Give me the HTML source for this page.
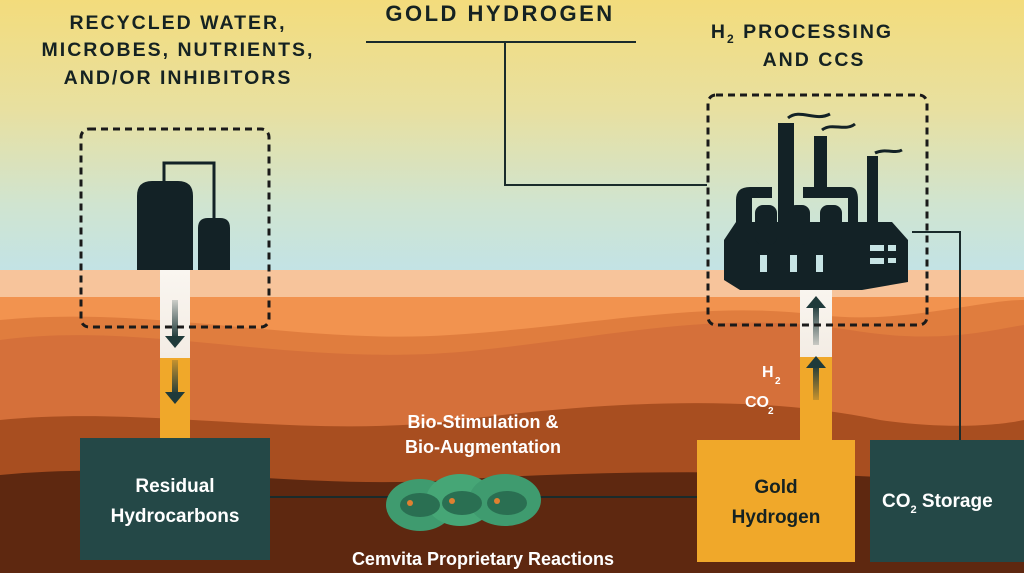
<!DOCTYPE html>
<html><head><meta charset="utf-8"><style>
html,body{margin:0;padding:0;width:1024px;height:573px;overflow:hidden}
svg text{font-family:"Liberation Sans","DejaVu Sans",sans-serif;font-weight:bold}
</style></head><body>
<svg width="1024" height="573" viewBox="0 0 1024 573" xmlns="http://www.w3.org/2000/svg">
<defs>
<linearGradient id="sky" x1="0" y1="0" x2="0" y2="1">
<stop offset="0" stop-color="#f3dc7c"/><stop offset="0.4" stop-color="#e8e0a0"/><stop offset="0.75" stop-color="#d0e4d0"/><stop offset="1" stop-color="#c2e3e6"/>
</linearGradient>
<linearGradient id="wp" x1="0" y1="0" x2="0" y2="1">
<stop offset="0" stop-color="#faf6f0"/><stop offset="1" stop-color="#f3ece4"/>
</linearGradient>
<linearGradient id="ar" x1="0" y1="0" x2="0" y2="1">
<stop offset="0" stop-color="#1f3a3a" stop-opacity="0.2"/><stop offset="1" stop-color="#1f3a3a"/>
</linearGradient>
<linearGradient id="ar2" x1="0" y1="1" x2="0" y2="0">
<stop offset="0" stop-color="#1f3a3a" stop-opacity="0.2"/><stop offset="1" stop-color="#1f3a3a"/>
</linearGradient>
</defs>
<rect width="1024" height="273" fill="url(#sky)"/>
<rect y="270" width="1024" height="303" fill="#f7c49b"/>
<path d="M0 297 L1024 297 L1024 573 L0 573Z" fill="#f2934f"/>
<path d="M0 320 C150 305 300 345 450 335 C600 325 700 300 820 315 C900 325 980 300 1024 300 L1024 573 L0 573Z" fill="#e07d3e"/>
<path d="M0 340 C150 320 300 370 480 350 C620 335 720 310 850 330 C940 345 990 330 1024 325 L1024 573 L0 573Z" fill="#d5703a"/>
<path d="M0 420 C150 405 300 440 460 420 C620 400 760 395 880 420 C950 430 1000 425 1024 420 L1024 573 L0 573Z" fill="#a84e20"/>
<path d="M0 475 C150 460 300 490 450 480 C600 470 750 470 900 478 C960 482 1000 480 1024 478 L1024 573 L0 573Z" fill="#5e2810"/>
<text x="500" y="21" font-size="22" text-anchor="middle" fill="#152222" letter-spacing="2.5">GOLD HYDROGEN</text>
<path d="M366 42 H636 M505 42 V185 H707" stroke="#1a2b2b" stroke-width="2" fill="none"/>
<text font-size="19.5" fill="#152222" text-anchor="middle" letter-spacing="2">
<tspan x="178" y="29">RECYCLED WATER,</tspan><tspan x="178" y="56">MICROBES, NUTRIENTS,</tspan><tspan x="178" y="84">AND/OR INHIBITORS</tspan></text>
<text font-size="19.5" fill="#152222" text-anchor="middle" letter-spacing="2"><tspan x="802" y="38">H<tspan font-size="12" dy="5">2</tspan><tspan dy="-5"> PROCESSING</tspan></tspan><tspan x="814" y="66">AND CCS</tspan></text>
<path d="M912 232 H960 V440" stroke="#1a2b2b" stroke-width="2" fill="none"/>
<path d="M270 497 H697" stroke="#1a2b2b" stroke-width="2"/>
<rect x="160" y="270" width="30" height="88" fill="url(#wp)"/>
<rect x="160" y="358" width="30" height="82" fill="#f0a82a"/>
<rect x="172" y="300" width="6" height="38" fill="url(#ar)"/><path d="M165 336 H185 L175 348Z" fill="#1f3a3a"/>
<rect x="172" y="360" width="6" height="35" fill="url(#ar)"/><path d="M165 392 H185 L175 404Z" fill="#1f3a3a"/>
<path d="M164 181 V163 H214 V218" stroke="#132226" stroke-width="3" fill="none"/>
<path d="M137 270 V196 Q137 181 152 181 H178 Q193 181 193 196 V270Z" fill="#132226"/>
<path d="M198 270 V228 Q198 218 208 218 H220 Q230 218 230 228 V270Z" fill="#132226"/>
<rect x="81" y="129" width="188" height="198" rx="8" fill="none" stroke="#1a1a1a" stroke-width="3" stroke-dasharray="7,5"/>
<rect x="800" y="285" width="32" height="72" fill="url(#wp)"/>
<rect x="800" y="357" width="32" height="84" fill="#f0a82a"/>
<rect x="813" y="305" width="6" height="40" fill="url(#ar2)"/><path d="M806 308 H826 L816 296Z" fill="#1f3a3a"/>
<rect x="813" y="365" width="6" height="35" fill="url(#ar2)"/><path d="M806 368 H826 L816 356Z" fill="#1f3a3a"/>
<text font-size="16" fill="#fff"><tspan x="762" y="377">H</tspan><tspan x="775" y="384" font-size="10">2</tspan><tspan x="745" y="407">CO</tspan><tspan x="768" y="414" font-size="10">2</tspan></text>
<g fill="#132226">
<rect x="778" y="123" width="16" height="100"/>
<rect x="814" y="136" width="13" height="60"/>
<rect x="867" y="156" width="11" height="70"/>
<path d="M724 240 L736 222 V200 Q736 187 750 187 H772 V198 H752 V222 H892 L908 240 V282 L862 290 H740 L724 280Z"/>
<path d="M803 187 H850 Q858 187 858 200 V222 H848 V198 H803Z"/>
<rect x="755" y="205" width="22" height="40" rx="8"/><rect x="788" y="205" width="22" height="40" rx="8"/><rect x="820" y="205" width="22" height="40" rx="8"/>
</g>
<g fill="#c7e4e4"><rect x="760" y="255" width="7" height="17"/><rect x="790" y="255" width="7" height="17"/><rect x="816" y="255" width="7" height="17"/><rect x="870" y="245" width="14" height="6"/><rect x="888" y="245" width="8" height="6"/><rect x="870" y="258" width="14" height="6"/><rect x="888" y="258" width="8" height="5"/></g>
<path d="M788 118 C800 108 815 122 830 114 M822 130 C832 122 845 132 855 124 M875 153 C885 148 895 154 902 150" stroke="#132226" stroke-width="3" fill="none"/>
<rect x="708" y="95" width="219" height="230" rx="8" fill="none" stroke="#1a1a1a" stroke-width="3" stroke-dasharray="7,5"/>
<rect x="80" y="438" width="190" height="122" fill="#244847"/>
<text x="175" y="492" font-size="19" fill="#fff" text-anchor="middle">Residual</text>
<text x="175" y="522" font-size="19" fill="#fff" text-anchor="middle">Hydrocarbons</text>
<rect x="697" y="440" width="158" height="122" fill="#f0a82a"/>
<text x="776" y="493" font-size="19" fill="#152222" text-anchor="middle">Gold</text>
<text x="776" y="523" font-size="19" fill="#152222" text-anchor="middle">Hydrogen</text>
<rect x="870" y="440" width="154" height="122" fill="#244847"/>
<text x="882" y="507" font-size="19" fill="#fff">CO<tspan font-size="11" dy="6">2</tspan><tspan dy="-6"> Storage</tspan></text>
<text x="483" y="428" font-size="18" fill="#fff" text-anchor="middle">Bio-Stimulation &amp;</text>
<text x="483" y="453" font-size="18" fill="#fff" text-anchor="middle">Bio-Augmentation</text>
<text x="483" y="565" font-size="18" fill="#fff" text-anchor="middle">Cemvita Proprietary Reactions</text>
<g>
<ellipse cx="420" cy="505" rx="34" ry="26" fill="#3f9b6f"/>
<ellipse cx="460" cy="500" rx="34" ry="26" fill="#46a676"/>
<ellipse cx="505" cy="500" rx="36" ry="26" fill="#3f9b6f"/>
<ellipse cx="420" cy="505" rx="20" ry="12" fill="#2a6f52"/>
<ellipse cx="462" cy="503" rx="20" ry="12" fill="#2a6f52"/>
<ellipse cx="507" cy="503" rx="20" ry="12" fill="#2a6f52"/>
<circle cx="410" cy="503" r="3" fill="#e08030"/><circle cx="452" cy="501" r="3" fill="#e08030"/><circle cx="497" cy="501" r="3" fill="#e08030"/>
</g>
</svg>
</body></html>
